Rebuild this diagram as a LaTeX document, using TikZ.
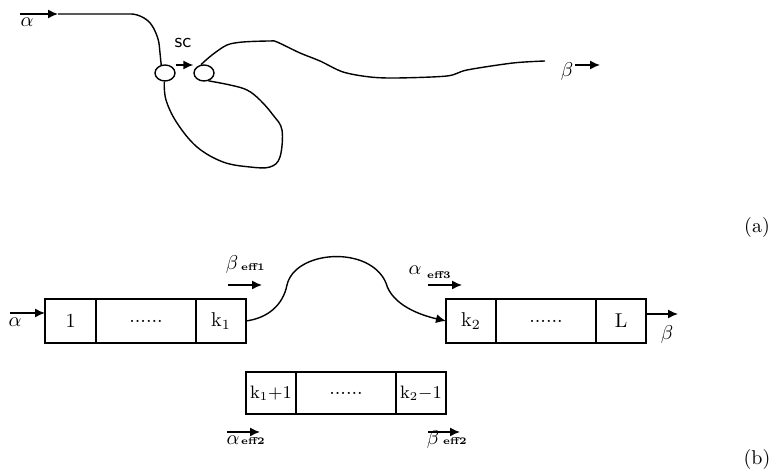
\documentclass[tikz,border=0pt]{standalone}
\usetikzlibrary{positioning,arrows.meta,shapes.geometric}

\begin{document}
\begin{tikzpicture}[x=0.5pt,y=-0.5pt,line width=0.7pt,
  tip/.style={-{Latex[length=5pt,width=4.5pt]}},
  cell/.style={draw,minimum height=22pt,inner sep=0pt,outer sep=0pt},
  seal/.style={draw,ellipse,minimum width=10pt,minimum height=8pt,inner sep=0pt},
  eff/.style={font=\tiny\bfseries,inner sep=0pt},
  lab/.style={inner sep=0pt}]
\useasboundingbox (0,0) rectangle (777,474);

%(a) the looped strand
\node[lab] (alphaA) at (27,22) {$\alpha$};
\node[seal] (sA) at (165,73) {};
\node[seal] (sB) at (204,73) {};
\node[font=\sffamily] (sc) at (183,43) {sc};
\node[lab] (betaA) at (567,72) {$\beta$};
\coordinate (inA) at (20,14);
\coordinate (endA) at (58,14);
\draw[tip] (inA) -- (endA);
\draw[rounded corners=6pt] (endA) -- (143,14) -- (158,33) -- (sA.115);
\draw plot[smooth,tension=0.6] coordinates {(sA.265) (166,100) (177,123) (197,147) (223,162)
  (250,167) (270,167) (280,157) (282,130) (273,115) (260,100) (247,90) (230,85) (sB.300)};
\draw plot[smooth,tension=0.5] coordinates {(sB.110) (212,55) (227,45) (243,42) (270,41)
  (277,42) (300,53) (320,61) (343,72) (370,77) (397,78) (447,76) (467,70) (513,63) (545,61)};
\draw[tip] ([yshift=4pt]sA.east) -- ([yshift=4pt]sB.west);
\coordinate (outA) at (575,65);
\draw[tip] (outA) -- +(25,0);
\node (capA) at (757,228) {(a)};

%(b) the three segments
\node[cell,minimum width=25.5pt] (c1) at (70.5,321) {1};
\node[cell,minimum width=50pt,right=0pt of c1] (c2) {......};
\node[cell,minimum width=25pt,right=0pt of c2] (c3) {k\textsubscript{1}};

\node[cell,minimum width=25pt] (d1) at (471,321) {k\textsubscript{2}};
\node[cell,minimum width=50pt,right=0pt of d1] (d2) {......};
\node[cell,minimum width=25pt,right=0pt of d2] (d3) {L};

\node[cell,minimum height=21pt,minimum width=25pt,font=\small] (e1) at (271,393) {k\textsubscript{1}+1};
\node[cell,minimum height=21pt,minimum width=50pt,right=0pt of e1] (e2) {......};
\node[cell,minimum height=21pt,minimum width=25pt,right=0pt of e2,font=\small] (e3) {k\textsubscript{2}$-$1};

\draw[tip] (c3.east) .. controls (268,318) and (283,305) .. (287,285)
  .. controls (295,250) and (370,245) .. (386,283)
  .. controls (392,305) and (420,315) .. (d1.west);

%labels and short arrows
\node[lab] (alphaB) at (15,322) {$\alpha$};
\coordinate (inB) at (10,313);
\draw[tip] (inB) -- ([yshift=4pt]c1.west);
\node[lab] (betaB) at (667,335) {$\beta$};
\coordinate (outB) at ([yshift=3.5pt]d3.east);
\draw[tip] (outB) -- +(32,0);

\node[lab] (b1) at (232,265) {$\beta$};
\node[eff] (b1e) at (253,267) {eff1};
\draw[tip] (228,285) -- (262,285);
\node[lab] (a3) at (415,270) {$\alpha$};
\node[eff] (a3e) at (439,275) {eff3};
\draw[tip] (428,285) -- (462,285);

\node[lab] (a2) at (233,440) {$\alpha$};
\node[eff] (a2e) at (253,441) {eff2};
\draw[tip] (227,432) -- (260,432);
\node[lab] (b2) at (433,440) {$\beta$};
\node[eff] (b2e) at (455,441) {eff2};
\draw[tip] (428,432) -- (460,432);

\node (capB) at (757,460) {(b)};
\end{tikzpicture}
\end{document}
